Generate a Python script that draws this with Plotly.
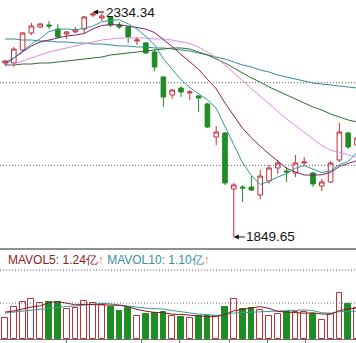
import plotly.graph_objects as go

# ---------------- data ----------------
idx = list(range(41))

open_ = [2224.5, 2224.5, 2252.5, 2289.1, 2302.0, 2306.3, 2297.7, 2287.0, 2291.3, 2297.7,
         2327.9, 2321.4, 2323.6, 2306.3, 2302.0, 2271.9, 2267.6, 2248.2, 2194.3, 2155.5,
         2170.6, 2159.9, 2153.4, 2136.2, 2065.1, 2073.7, 1953.0, 1957.3, 1957.3, 1940.1,
         1970.3, 1998.3, 1991.8, 1987.5, 2009.1, 1987.5, 1959.5, 1968.1, 2015.5, 2073.7,
         2047.8]
high_ = [2230.9, 2259.0, 2291.3, 2310.7, 2310.7, 2315.0, 2308.5, 2293.4, 2302.0, 2325.7,
         2334.34, 2332.2, 2325.7, 2312.8, 2304.2, 2280.5, 2269.7, 2254.6, 2196.5, 2168.5,
         2174.9, 2166.3, 2155.5, 2138.3, 2088.8, 2075.8, 1966.0, 1961.7, 1981.0, 1994.0,
         2004.7, 2015.5, 2000.4, 2026.3, 2022.0, 1989.7, 1974.6, 2013.4, 2095.2, 2075.8,
         2069.4]
low_ = [2220.2, 2215.9, 2250.3, 2284.8, 2299.9, 2297.7, 2278.3, 2276.2, 2289.1, 2289.1,
        2323.6, 2315.0, 2302.0, 2297.7, 2267.6, 2263.3, 2243.9, 2207.2, 2129.7, 2146.9,
        2151.2, 2144.8, 2118.9, 2084.5, 2047.8, 1961.7, 1849.65, 1925.0, 1948.7, 1931.5,
        1963.8, 1985.3, 1968.1, 1978.9, 2002.6, 1957.3, 1948.7, 1966.0, 2011.2, 2039.2,
        2043.5]
close_ = [2228.8, 2254.6, 2289.1, 2304.2, 2308.5, 2304.2, 2280.5, 2291.3, 2295.6, 2323.6,
          2330.0, 2325.7, 2306.3, 2302.0, 2280.5, 2274.0, 2246.0, 2215.9, 2151.2, 2166.3,
          2162.0, 2162.0, 2149.1, 2086.6, 2075.8, 1966.0, 1961.7, 1955.2, 1950.9, 1981.0,
          1998.3, 2009.1, 1989.7, 2009.1, 2011.2, 1963.8, 1968.1, 2009.1, 2075.8, 2043.5,
          2062.9]

ma5 = [2218.0, 2235.3, 2250.3, 2265.4, 2277.0, 2292.1, 2297.3, 2297.7, 2296.0, 2299.0,
       2304.2, 2313.2, 2316.3, 2317.5, 2308.9, 2297.7, 2281.8, 2263.7, 2233.5, 2210.7,
       2188.3, 2171.5, 2158.1, 2145.2, 2127.1, 2087.9, 2047.8, 2009.0, 1981.9, 1962.9,
       1969.4, 1978.9, 1985.8, 1997.4, 2003.4, 1996.6, 1988.4, 1992.2, 2005.6, 2012.1,
       2031.9]
ma10 = [2224.5, 2235.3, 2248.2, 2261.1, 2269.7, 2274.0, 2278.3, 2282.6, 2284.8, 2288.0,
        2298.2, 2305.3, 2307.0, 2306.8, 2304.0, 2301.0, 2297.5, 2290.0, 2275.5, 2259.8,
        2243.0, 2226.6, 2210.9, 2189.4, 2168.9, 2138.1, 2109.7, 2083.6, 2063.6, 2045.0,
        2028.7, 2013.4, 1997.4, 1989.7, 1983.2, 1983.0, 1983.6, 1989.0, 2001.5, 2007.8,
        2014.2]
ma20 = [2218.0, 2222.3, 2228.8, 2235.3, 2241.7, 2248.2, 2252.5, 2256.8, 2261.1, 2265.4,
        2269.7, 2274.0, 2276.2, 2278.3, 2278.3, 2278.3, 2278.3, 2276.2, 2276.2, 2274.0,
        2270.6, 2266.0, 2259.0, 2248.2, 2236.3, 2219.5, 2203.6, 2186.8, 2169.5, 2152.3,
        2135.7, 2120.0, 2104.1, 2089.4, 2076.0, 2060.5, 2046.5, 2036.2, 2032.5, 2026.3,
        2021.3]
ma30 = [2220.2, 2220.2, 2222.3, 2222.3, 2224.5, 2224.5, 2226.6, 2228.8, 2230.9, 2233.1,
        2235.3, 2237.4, 2241.7, 2243.9, 2246.0, 2248.2, 2250.3, 2252.5, 2254.6, 2256.8,
        2256.8, 2254.6, 2248.2, 2241.7, 2233.1, 2224.5, 2213.7, 2202.9, 2192.2, 2183.5,
        2172.8, 2164.2, 2155.5, 2146.9, 2138.3, 2129.7, 2123.2, 2114.6, 2108.2, 2101.7,
        2097.4]
ma60 = [2276.2, 2276.2, 2274.0, 2274.0, 2271.9, 2271.9, 2269.7, 2269.7, 2267.6, 2267.6,
        2265.4, 2265.4, 2263.3, 2261.1, 2261.1, 2259.0, 2259.0, 2256.8, 2256.8, 2254.6,
        2252.5, 2250.3, 2246.0, 2241.7, 2237.4, 2233.1, 2226.6, 2220.2, 2215.9, 2209.4,
        2205.1, 2198.6, 2194.3, 2190.0, 2185.7, 2181.4, 2179.2, 2177.1, 2174.9, 2172.8,
        2170.6]

volume = [0.84, 1.28, 1.48, 1.60, 1.44, 1.48, 1.48, 1.20, 1.24, 1.52,
          1.44, 1.36, 1.28, 1.12, 1.24, 0.92, 1.00, 1.04, 1.08, 0.92,
          0.88, 0.84, 0.92, 0.92, 0.92, 1.28, 1.60, 1.20, 1.24, 1.16,
          0.92, 1.00, 1.08, 1.08, 1.08, 1.00, 0.76, 1.00, 1.84, 1.40,
          1.24]
mavol5 = [1.08, 1.12, 1.20, 1.28, 1.328, 1.456, 1.496, 1.44, 1.368, 1.384,
          1.376, 1.352, 1.368, 1.344, 1.288, 1.184, 1.112, 1.064, 1.056, 0.992,
          0.984, 0.952, 0.928, 0.896, 0.896, 0.976, 1.128, 1.184, 1.248, 1.296,
          1.224, 1.104, 1.08, 1.048, 1.032, 1.048, 1.00, 0.984, 1.136, 1.20,
          1.24]
mavol10 = [1.04, 1.08, 1.12, 1.16, 1.20, 1.24, 1.28, 1.30, 1.32, 1.356,
           1.416, 1.424, 1.404, 1.356, 1.336, 1.28, 1.232, 1.216, 1.20, 1.14,
           1.084, 1.032, 0.996, 0.976, 0.944, 0.98, 1.04, 1.056, 1.072, 1.096,
           1.10, 1.116, 1.132, 1.148, 1.164, 1.136, 1.052, 1.032, 1.092, 1.116,
           1.10]

high_label = "2334.34"
low_label = "1849.65"
mavol_text = ("<span style='color:#8b2323'>MAVOL5: 1.24亿</span>"
              "<span style='color:#f07070'>↑</span> "
              "<span style='color:#3a8f9a'>MAVOL10: 1.10亿</span>"
              "<span style='color:#f07070'>↑</span>")
month_ticks = [7, 15.5, 19.8, 25.5, 29.8, 34.1]

# ---------------- styles ----------------
RED = "#c0303a"
GREEN = "#1f8c24"
W, H = 356, 343

fig = go.Figure()

fig.add_trace(go.Candlestick(
    x=idx, open=open_, high=high_, low=low_, close=close_,
    increasing=dict(line=dict(color=RED, width=1), fillcolor="white"),
    decreasing=dict(line=dict(color=GREEN, width=1), fillcolor=GREEN),
    whiskerwidth=0, xaxis="x", yaxis="y", showlegend=False, hoverinfo="skip"))

ma_styles = [(ma60, "#2f8f8f"), (ma30, "#2e6e2e"), (ma20, "#e08ae0"),
             (ma10, "#7a1f6a"), (ma5, "#2f9a9a")]
for vals, col in ma_styles:
    fig.add_trace(go.Scatter(x=idx, y=vals, mode="lines",
                             line=dict(color=col, width=1),
                             xaxis="x", yaxis="y", showlegend=False, hoverinfo="skip"))

up = [c >= o for o, c in zip(open_, close_)]
fig.add_trace(go.Bar(
    x=idx, y=volume, width=0.66,
    marker=dict(color=["white" if u else GREEN for u in up],
                line=dict(color=[RED if u else GREEN for u in up], width=1)),
    xaxis="x2", yaxis="y2", showlegend=False, hoverinfo="skip"))
fig.add_trace(go.Scatter(x=idx, y=mavol10, mode="lines", line=dict(color="#3a9a9a", width=1),
                         xaxis="x2", yaxis="y2", showlegend=False, hoverinfo="skip"))
fig.add_trace(go.Scatter(x=idx, y=mavol5, mode="lines", line=dict(color="#8b1a1a", width=1),
                         xaxis="x2", yaxis="y2", showlegend=False, hoverinfo="skip"))

xr = [-0.568, 39.886]
price_dom = [1 - 248 / H, 1]
vol_dom = [1 - 339 / H, 1 - 270 / H]

fig.update_layout(
    width=W, height=H, margin=dict(l=0, r=0, t=0, b=0),
    paper_bgcolor="white", plot_bgcolor="white",
    font=dict(family="Arial, Liberation Sans, sans-serif"),
    bargap=0, boxgap=0.25,
    xaxis=dict(range=xr, domain=[0, 1], anchor="y", showgrid=False, zeroline=False,
               showticklabels=False, ticks="", rangeslider=dict(visible=False)),
    yaxis=dict(range=[1825.9, 2360.2], domain=price_dom, showgrid=False, zeroline=False,
               showticklabels=False, ticks=""),
    xaxis2=dict(range=xr, domain=[0, 1], anchor="y2", showgrid=False, zeroline=False,
                showticklabels=False, showline=True, linecolor="#707070", linewidth=1,
                ticks="outside", tickvals=month_ticks, ticklen=4, tickcolor="#707070",
                tickwidth=1),
    yaxis2=dict(range=[0, 2.76], domain=vol_dom, showgrid=False, zeroline=False,
                showticklabels=False, ticks=""),
    showlegend=False,
)

dot = "1px,2px"
shapes = [
    dict(type="line", xref="paper", yref="y domain", x0=0, x1=1, y0=2 / 3, y1=2 / 3,
         line=dict(color="#606060", width=1, dash=dot)),
    dict(type="line", xref="paper", yref="y domain", x0=0, x1=1, y0=1 / 3, y1=1 / 3,
         line=dict(color="#606060", width=1, dash=dot)),
    dict(type="line", xref="paper", yref="y2 domain", x0=0, x1=1, y0=1, y1=1,
         line=dict(color="#606060", width=1, dash=dot)),
    dict(type="line", xref="paper", yref="y2 domain", x0=0, x1=1, y0=36 / 69, y1=36 / 69,
         line=dict(color="#606060", width=1, dash=dot)),
    dict(type="line", xref="paper", yref="paper", x0=0, x1=1,
         y0=1 - 249 / H, y1=1 - 249 / H, line=dict(color="#6a6a6a", width=1.5)),
]
fig.update_layout(shapes=shapes)

fig.add_annotation(x=10, y=max(high_), xref="x", yref="y", text=high_label,
                   showarrow=True, ax=37, ay=0, arrowhead=2, arrowsize=1, arrowwidth=1,
                   arrowcolor="#111", standoff=0, font=dict(size=13.5, color="#111"))
fig.add_annotation(x=26, y=min(low_), xref="x", yref="y", text=low_label,
                   showarrow=True, ax=37, ay=0, arrowhead=2, arrowsize=1, arrowwidth=1,
                   arrowcolor="#111", standoff=0, font=dict(size=13.5, color="#111"))
fig.add_annotation(x=6 / W, y=1 - 260 / H, xref="paper", yref="paper", text=mavol_text,
                   showarrow=False, xanchor="left", yanchor="middle",
                   font=dict(size=12, color="#333"))

fig.write_html("out.html")
